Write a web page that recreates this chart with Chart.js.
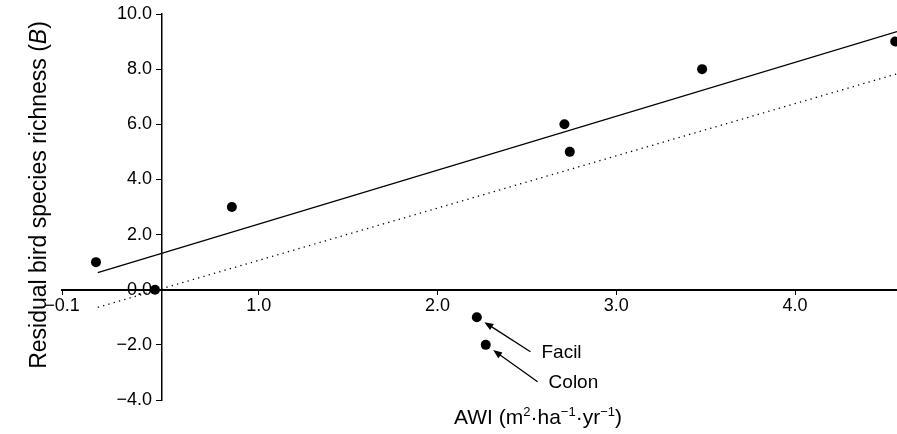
<!DOCTYPE html>
<html>
<head>
<meta charset="utf-8">
<script src="https://cdn.jsdelivr.net/npm/chart.js@4"></script>
<style>
  html, body { margin: 0; padding: 0; background: #fff; }
  #wrap { width: 897px; height: 434px; }
</style>
</head>
<body>
<div id="wrap"><canvas id="chart"></canvas></div>
<script>
// sites: AWI against residual bird species richness
const awi = [0.09, 0.42, 0.85, 2.71, 2.74, 3.48, 4.56, 2.22, 2.27];
const richness = [1.0, 0.0, 3.0, 6.0, 5.0, 8.0, 9.0, -1.0, -2.0];

// the two fitted lines, read at their ends
const fitX = [0.10, 4.57];
const fitSolid = [0.62, 9.36];
const fitDotted = [-0.64, 7.83];

const xTicks = [-0.1, 1.0, 2.0, 3.0, 4.0];
const yTicks = [-4, -2, 0, 2, 4, 6, 8, 10];

// labelled outliers: point index and where the arrow starts
const outNames = ['Facil', 'Colon'];
const outIndex = [7, 8];
const outTailX = [2.52, 2.56];
const outTailY = [-2.25, -3.34];

const FONT = '"Liberation Sans", Arial, Helvetica, sans-serif';

function fmt(v) {
    return (v < 0 ? '\u2212' : '') + Math.abs(v).toFixed(1);
}

const extras = {
    id: 'extras',
    afterDraw(chart) {
        const ctx = chart.ctx;
        const x = chart.scales.x, y = chart.scales.y;
        ctx.save();
        ctx.fillStyle = '#000';
        ctx.strokeStyle = '#000';

        // arrows + names
        outNames.forEach(function (name, i) {
            const k = outIndex[i];
            const px = x.getPixelForValue(awi[k]), py = y.getPixelForValue(richness[k]);
            const tx = x.getPixelForValue(outTailX[i]), ty = y.getPixelForValue(outTailY[i]);
            const dx = tx - px, dy = ty - py, len = Math.hypot(dx, dy);
            const ux = dx / len, uy = dy / len;
            const hx = px + ux * 9, hy = py + uy * 9;
            ctx.lineWidth = 1.3;
            ctx.beginPath();
            ctx.moveTo(tx, ty);
            ctx.lineTo(hx + ux * 6, hy + uy * 6);
            ctx.stroke();
            ctx.beginPath();
            ctx.moveTo(hx, hy);
            ctx.lineTo(hx + ux * 9 - uy * 3.5, hy + uy * 9 + ux * 3.5);
            ctx.lineTo(hx + ux * 9 + uy * 3.5, hy + uy * 9 - ux * 3.5);
            ctx.closePath();
            ctx.fill();
            ctx.font = '19px ' + FONT;
            ctx.textAlign = 'left';
            ctx.textBaseline = 'middle';
            ctx.fillText(name, tx + 11, ty + 1);
        });

        // y title with italic B
        ctx.save();
        ctx.translate(40, 195);
        ctx.rotate(-Math.PI / 2);
        ctx.textBaseline = 'middle';
        ctx.textAlign = 'left';
        const parts = [['Residual bird species richness (', ''], ['B', 'italic '], [')', '']];
        let total = 0;
        parts.forEach(function (p) { ctx.font = p[1] + '23px ' + FONT; total += ctx.measureText(p[0]).width; });
        let cx = -total / 2;
        parts.forEach(function (p) {
            ctx.font = p[1] + '23px ' + FONT;
            ctx.fillText(p[0], cx, 0);
            cx += ctx.measureText(p[0]).width;
        });
        ctx.restore();

        // x title with superscripts
        const segs = [['AWI (m', 0], ['2', 1], ['\u00b7ha', 0], ['\u22121', 1], ['\u00b7yr', 0], ['\u22121', 1], [')', 0]];
        const big = '21px ' + FONT, small = '13px ' + FONT;
        let w = 0;
        segs.forEach(function (s) { ctx.font = s[1] ? small : big; w += ctx.measureText(s[0]).width; });
        let sx = 538 - w / 2;
        ctx.textAlign = 'left';
        ctx.textBaseline = 'alphabetic';
        segs.forEach(function (s) {
            ctx.font = s[1] ? small : big;
            ctx.fillText(s[0], sx, s[1] ? 416 : 424);
            sx += ctx.measureText(s[0]).width;
        });
        ctx.restore();
    }
};

new Chart(document.getElementById('chart'), {
    type: 'scatter',
    data: {
        datasets: [
            {
                label: 'sites',
                data: awi.map(function (v, i) { return {x: v, y: richness[i]}; }),
                pointRadius: 5,
                pointBackgroundColor: '#000',
                pointBorderWidth: 0,
            },
            {
                label: 'fit',
                data: fitX.map(function (v, i) { return {x: v, y: fitSolid[i]}; }),
                showLine: true,
                borderColor: '#000',
                borderWidth: 1.3,
                pointRadius: 0,
            },
            {
                label: 'fit 2',
                data: fitX.map(function (v, i) { return {x: v, y: fitDotted[i]}; }),
                showLine: true,
                borderColor: '#000',
                borderWidth: 1.3,
                borderDash: [1.3, 4.2],
                pointRadius: 0,
            },
        ],
    },
    options: {
        responsive: true,
        maintainAspectRatio: false,
        animation: false,
        layout: { autoPadding: false, padding: { left: 62, right: 0, top: 14, bottom: 34 } },
        plugins: { legend: { display: false }, tooltip: { enabled: false } },
        scales: {
            x: {
                type: 'linear',
                min: -0.1,
                max: 4.57,
                position: { y: 0 },
                afterBuildTicks: function (s) { s.ticks = xTicks.map(function (v) { return {value: v}; }); },
                ticks: { callback: fmt, color: '#000', font: { size: 18, family: FONT }, padding: 2, maxRotation: 0, autoSkip: false },
                grid: { drawOnChartArea: false, drawTicks: true, tickLength: 4, color: '#000', lineWidth: 1 },
                border: { display: true, color: '#000', width: 2 },
            },
            y: {
                type: 'linear',
                min: -4,
                max: 10,
                position: { x: 0.46 },
                afterBuildTicks: function (s) { s.ticks = yTicks.map(function (v) { return {value: v}; }); },
                // labels sit right on the axis when it is placed by value, so pad with spaces
                ticks: { callback: function (v) { return fmt(v) + '  '; }, color: '#000', font: { size: 18, family: FONT }, autoSkip: false },
                grid: { drawOnChartArea: false, drawTicks: true, tickLength: 5, color: '#000', lineWidth: 1 },
                border: { display: true, color: '#000', width: 1.5 },
            },
        },
    },
    plugins: [extras],
});
</script>
</body>
</html>
